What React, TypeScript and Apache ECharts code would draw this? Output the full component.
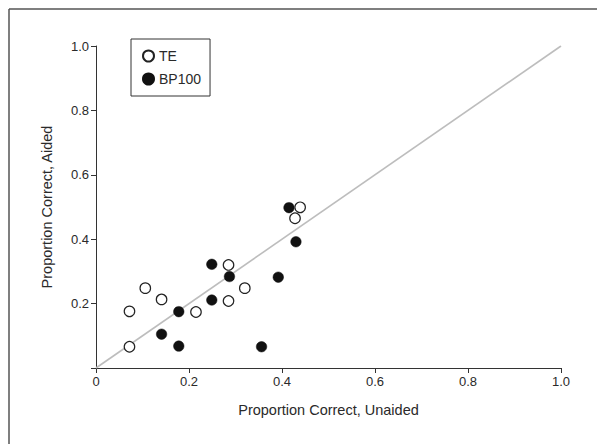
import React, { useEffect, useRef } from "react";
import * as echarts from "echarts";

const teData: number[][] = [
  [0.072, 0.176],
  [0.072, 0.066],
  [0.106, 0.248],
  [0.141, 0.213],
  [0.215, 0.174],
  [0.285, 0.32],
  [0.285, 0.208],
  [0.32, 0.248],
  [0.428, 0.465],
  [0.439, 0.499],
];

const bp100Data: number[][] = [
  [0.141, 0.105],
  [0.178, 0.175],
  [0.178, 0.068],
  [0.249, 0.322],
  [0.249, 0.211],
  [0.287, 0.284],
  [0.356, 0.066],
  [0.392, 0.282],
  [0.415, 0.498],
  [0.43, 0.392],
];

const identityLine: number[][] = [
  [0, 0],
  [1, 1],
];

const seriesNames = ["TE", "BP100"];
const xAxisTitle = "Proportion Correct, Unaided";
const yAxisTitle = "Proportion Correct, Aided";

const FONT = '"Liberation Sans", Arial, sans-serif';
const TEXT = "#2a2a2a";

export default function App() {
  const ref = useRef<HTMLDivElement>(null);
  useEffect(() => {
    if (!ref.current) return;
    const chart = echarts.init(ref.current, undefined, { renderer: "svg" });
    const fmt = (v: number) => (v === 0 ? "0" : v.toFixed(1));
    chart.setOption({
      animation: false,
      backgroundColor: "#fff",
      textStyle: { fontFamily: FONT, color: TEXT },
      graphic: [
        {
          type: "line",
          shape: { x1: 9, y1: 9, x2: 597, y2: 9 },
          style: { stroke: "#555", lineWidth: 1.5 },
        },
        {
          type: "line",
          shape: { x1: 9, y1: 9, x2: 9, y2: 444 },
          style: { stroke: "#555", lineWidth: 1.5 },
        },
      ],
      grid: { left: 96, right: 36, top: 46, bottom: 76 },
      legend: {
        data: seriesNames,
        orient: "vertical",
        left: 131,
        top: 39,
        padding: [10, 9, 10, 11],
        itemGap: 9,
        itemWidth: 11,
        itemHeight: 11,
        itemTextGap: 6,
        borderColor: "#333",
        borderWidth: 1,
        backgroundColor: "#fff",
        icon: "circle",
        textStyle: { fontFamily: FONT, fontSize: 14, color: TEXT },
      },
      xAxis: {
        type: "value",
        min: 0,
        max: 1,
        interval: 0.2,
        name: xAxisTitle,
        nameLocation: "middle",
        nameGap: 34,
        nameTextStyle: { fontFamily: FONT, fontSize: 14.5, color: TEXT },
        splitLine: { show: false },
        axisLine: { show: true, onZero: false, lineStyle: { color: "#333", width: 1 } },
        axisTick: { show: true, length: 5, lineStyle: { color: "#333" } },
        axisLabel: { formatter: fmt, fontFamily: FONT, fontSize: 13, color: TEXT, margin: 7 },
      },
      yAxis: {
        type: "value",
        min: 0,
        max: 1,
        interval: 0.2,
        name: yAxisTitle,
        nameLocation: "middle",
        nameGap: 42,
        nameTextStyle: { fontFamily: FONT, fontSize: 14.5, color: TEXT },
        splitLine: { show: false },
        axisLine: { show: true, onZero: false, lineStyle: { color: "#333", width: 1 } },
        axisTick: { show: true, length: 5, lineStyle: { color: "#333" } },
        axisLabel: {
          formatter: (v: number) => (v === 0 ? "" : v.toFixed(1)),
          fontFamily: FONT,
          fontSize: 13,
          color: TEXT,
          margin: 7,
        },
      },
      series: [
        {
          type: "line",
          data: identityLine,
          symbol: "none",
          silent: true,
          lineStyle: { color: "#bdbdbd", width: 1.6 },
          z: 1,
        },
        {
          name: "TE",
          type: "scatter",
          data: teData,
          symbol: "circle",
          symbolSize: 10.5,
          itemStyle: { color: "#fff", borderColor: "#222", borderWidth: 1.2, opacity: 1 },
          z: 3,
        },
        {
          name: "BP100",
          type: "scatter",
          data: bp100Data,
          symbol: "circle",
          symbolSize: 10.5,
          itemStyle: { color: "#111", borderColor: "#111", borderWidth: 0.5, opacity: 1 },
          z: 2,
        },
      ],
    });
    return () => chart.dispose();
  }, []);
  return (
    <div
      ref={ref}
      style={{ position: "absolute", left: 0, top: 0, width: 597, height: 444 }}
    />
  );
}
